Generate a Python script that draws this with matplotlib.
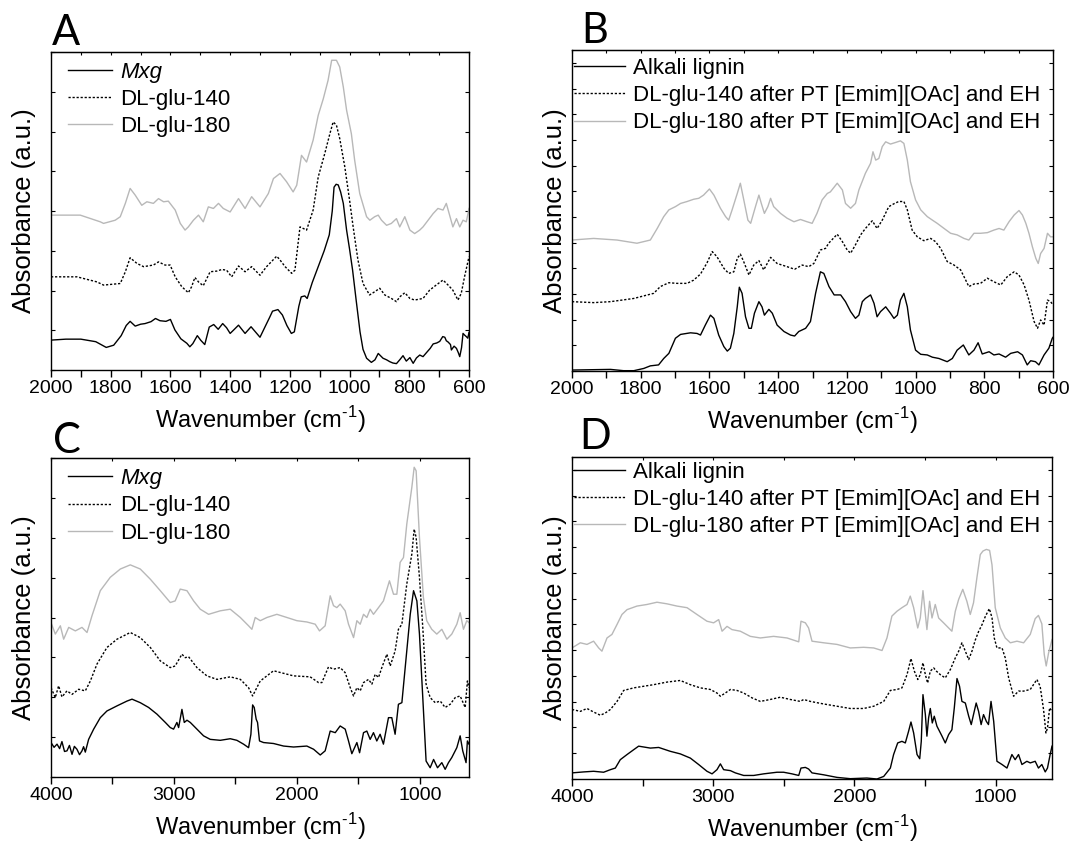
import matplotlib
matplotlib.use("Agg")
import matplotlib.pyplot as plt
from matplotlib.ticker import MultipleLocator, NullFormatter

plt.rcParams['font.family'] = ['Liberation Sans', 'DejaVu Sans']
plt.rcParams['mathtext.fontset'] = 'custom'
plt.rcParams['mathtext.rm'] = 'Liberation Sans'

# ---------------- panel A (Mxg, 2000-600) ----------------
a_wn_mxg = [2000, 1950, 1900, 1850, 1815, 1790, 1765, 1748, 1735, 1718, 1700, 1685, 1665, 1650, 1635, 1615,
            1600, 1585, 1565, 1545, 1535, 1525, 1510, 1498, 1485, 1470, 1455, 1440, 1425, 1412, 1400, 1388,
            1372, 1350, 1330, 1300, 1282, 1268, 1258, 1240, 1225, 1210, 1195, 1185, 1170, 1162, 1150, 1142,
            1125, 1105, 1085, 1068, 1058, 1052, 1045, 1038, 1030, 1021, 1010, 1000, 990, 978, 965, 955, 943,
            927, 915, 904, 888, 876, 865, 855, 843, 832, 821, 810, 798, 787, 776, 765, 754, 743, 730, 720,
            708, 698, 688, 681, 676, 670, 662, 659, 650, 642, 636, 631, 625, 620, 615, 609, 604, 600]
a_ab_mxg = [9.4, 9.7, 9.7, 8.9, 7.1, 7.8, 10.8, 14.0, 15.3, 13.8, 14.4, 14.6, 15.2, 16.2, 15.5, 15.3,
            15.9, 12.6, 9.8, 8.4, 7.3, 8.3, 10.8, 9.3, 8.0, 13.5, 14.3, 12.8, 14.6, 13.3, 11.5, 12.6,
            14.1, 11.5, 13.6, 10.3, 13.8, 16.5, 18.5, 19.0, 17.3, 14.0, 11.5, 12.0, 20.0, 23.0, 23.3, 22.5,
            27.5, 32.5, 37.5, 42.5, 50.0, 57.5, 58.4, 58.2, 56.0, 52.4, 44.0, 38.0, 31.5, 22.0, 12.0, 6.5, 3.7,
            2.4, 3.2, 5.2, 3.7, 3.2, 2.6, 2.2, 2.0, 3.2, 4.5, 2.8, 3.9, 2.1, 3.8, 4.7, 4.2, 5.4, 6.8, 8.2,
            8.5, 9.0, 10.5, 10.3, 9.2, 8.8, 8.0, 6.3, 7.5, 6.8, 5.5, 4.2, 7.0, 11.5, 11.0, 10.5, 10.0, 11.8]

a_wn_140 = [2000, 1991, 1913, 1846, 1824, 1768, 1751, 1735, 1712, 1690, 1657, 1640, 1618, 1601, 1584, 1562,
            1540, 1529, 1518, 1506, 1490, 1467, 1445, 1428, 1412, 1395, 1372, 1350, 1328, 1300, 1278, 1244,
            1233, 1216, 1194, 1183, 1166, 1144, 1122, 1105, 1083, 1066, 1055, 1044, 1033, 1016, 1000, 988,
            972, 955, 933, 916, 899, 882, 860, 843, 832, 815, 798, 782, 754, 732, 710, 687, 670, 654, 637,
            626, 615, 600]
a_ab_140 = [29.3, 29.3, 29.3, 27.7, 26.7, 27.2, 30.9, 35.3, 33.5, 32.5, 33.0, 34.0, 33.0, 33.0, 29.3, 26.2,
            24.3, 26.2, 29.1, 27.7, 26.5, 30.9, 31.1, 31.6, 31.4, 29.3, 32.7, 30.9, 32.5, 29.8, 32.5, 35.8,
            34.6, 32.5, 30.4, 31.4, 45.0, 44.0, 50.3, 60.7, 68.1, 74.3, 78.0, 77.0, 72.8, 63.9, 53.4, 45.0,
            34.6, 27.2, 23.6, 24.6, 25.7, 23.6, 22.5, 21.5, 23.0, 24.3, 22.5, 22.0, 22.5, 25.1, 26.7, 28.3,
            26.7, 25.1, 22.0, 24.1, 29.3, 35.6]

a_wn_180 = [2000, 1902, 1835, 1824, 1785, 1768, 1751, 1735, 1718, 1696, 1679, 1657, 1640, 1623, 1607, 1584,
            1567, 1551, 1540, 1523, 1506, 1490, 1473, 1456, 1439, 1423, 1400, 1372, 1350, 1328, 1300, 1272,
            1255, 1233, 1211, 1189, 1177, 1161, 1144, 1122, 1105, 1088, 1072, 1060, 1044, 1033, 1021, 1010,
            994, 983, 966, 943, 932, 916, 904, 893, 876, 860, 843, 832, 815, 798, 782, 765, 754, 737, 720,
            704, 687, 676, 665, 654, 642, 631, 620, 609, 600]
a_ab_180 = [48.7, 48.7, 46.6, 46.1, 47.1, 48.2, 52.4, 57.1, 55.0, 51.8, 52.9, 52.4, 53.9, 52.9, 53.1, 50.3,
            46.1, 44.0, 45.0, 47.1, 48.7, 46.6, 51.3, 50.8, 52.4, 50.8, 49.7, 53.9, 50.8, 54.5, 51.3, 55.5,
            60.2, 61.8, 59.2, 56.0, 58.1, 67.5, 65.4, 72.3, 80.1, 85.3, 91.1, 97.4, 97.4, 95.3, 89.0, 81.7,
            74.3, 66.0, 55.5, 48.2, 47.1, 48.2, 48.7, 47.1, 45.5, 46.1, 47.6, 45.0, 48.2, 44.0, 42.9, 44.0,
            45.0, 47.1, 49.2, 50.8, 50.3, 52.4, 48.7, 45.0, 47.6, 45.0, 47.1, 46.6, 50.8]

# ---------------- panel B (alkali lignin, 2000-600) ----------------
b_wn_lig = [2000, 1888, 1850, 1820, 1791, 1772, 1748, 1733, 1718, 1699, 1684, 1655, 1636, 1626, 1612, 1597,
            1587, 1573, 1558, 1548, 1539, 1529, 1519, 1513, 1505, 1495, 1485, 1478, 1469, 1456, 1447, 1440,
            1427, 1417, 1403, 1383, 1364, 1352, 1340, 1320, 1306, 1291, 1277, 1267, 1252, 1237, 1218, 1204,
            1189, 1175, 1165, 1155, 1146, 1131, 1121, 1112, 1102, 1087, 1073, 1063, 1053, 1044, 1034, 1024,
            1015, 1000, 985, 966, 951, 932, 908, 893, 879, 861, 845, 830, 818, 806, 786, 772, 757, 738, 723,
            703, 689, 675, 665, 651, 641, 626, 612, 602, 600]
b_ab_lig = [0.3, 0.5, 0.1, 0.1, 0.8, 1.6, 1.9, 3.9, 5.5, 10.2, 11.4, 11.9, 11.7, 11.2, 14.3, 17.4,
            16.4, 11.2, 7.6, 6.2, 7.1, 11.7, 20.0, 26.1, 24.2, 16.9, 13.3, 13.3, 18.0, 21.6, 20.0, 17.4,
            19.2, 18.0, 14.3, 12.3, 11.2, 10.9, 12.3, 13.3, 15.4, 24.2, 30.9, 30.4, 26.3, 23.7, 23.7, 21.6,
            18.5, 16.4, 17.4, 21.6, 22.6, 23.7, 21.1, 16.9, 18.5, 20.0, 18.0, 16.4, 17.4, 22.1, 24.2, 20.0,
            12.8, 6.5, 5.2, 5.0, 4.3, 3.9, 2.9, 3.9, 6.5, 8.1, 5.0, 6.5, 8.8, 5.3, 6.0, 5.0, 5.3, 4.3, 5.5,
            6.0, 5.0, 1.9, 3.2, 2.9, 1.9, 5.0, 7.1, 10.2, 10.5]

b_wn_140 = [2000, 1937, 1888, 1820, 1791, 1762, 1743, 1718, 1694, 1665, 1646, 1626, 1607, 1592, 1578, 1558,
            1544, 1529, 1519, 1510, 1500, 1485, 1471, 1456, 1442, 1422, 1403, 1374, 1352, 1330, 1311, 1296,
            1277, 1262, 1253, 1237, 1228, 1213, 1199, 1189, 1175, 1160, 1146, 1126, 1112, 1097, 1078, 1063,
            1049, 1034, 1024, 1010, 995, 976, 956, 942, 927, 908, 888, 869, 854, 845, 830, 811, 791, 772,
            752, 733, 713, 699, 684, 670, 655, 645, 636, 626, 616, 607, 600]
b_ab_140 = [21.6, 21.3, 21.6, 22.6, 23.4, 24.2, 26.3, 27.5, 27.3, 27.3, 28.3, 30.2, 33.7, 37.2, 35.6, 32.0,
            30.4, 30.9, 35.1, 36.4, 34.0, 29.9, 33.0, 34.4, 31.5, 35.4, 33.5, 32.5, 31.7, 33.0, 32.5, 33.5,
            37.7, 38.2, 39.8, 41.6, 42.6, 40.3, 37.7, 36.7, 39.3, 42.4, 44.4, 46.8, 44.4, 47.0, 51.2, 52.1,
            52.8, 52.8, 50.2, 43.9, 41.8, 40.6, 41.3, 40.3, 38.2, 34.1, 33.0, 31.5, 28.3, 26.3, 27.1, 27.3,
            28.9, 27.8, 26.8, 29.4, 30.9, 29.9, 26.8, 22.1, 15.4, 13.3, 15.9, 14.3, 22.1, 21.6, 20.6]

b_wn_180 = [2000, 1937, 1869, 1811, 1772, 1752, 1733, 1718, 1699, 1684, 1665, 1646, 1631, 1617, 1600, 1587,
            1568, 1553, 1544, 1534, 1519, 1510, 1500, 1488, 1480, 1466, 1456, 1449, 1440, 1430, 1422, 1413,
            1393, 1374, 1354, 1335, 1316, 1301, 1287, 1272, 1257, 1248, 1228, 1213, 1204, 1189, 1175, 1165,
            1146, 1131, 1124, 1116, 1107, 1097, 1087, 1073, 1058, 1044, 1034, 1024, 1015, 1000, 985, 966,
            951, 937, 917, 898, 879, 859, 845, 830, 811, 791, 772, 757, 743, 728, 713, 699, 689, 679, 670,
            660, 650, 643, 636, 626, 616, 607, 600]
b_ab_180 = [40.8, 41.3, 40.8, 39.8, 40.8, 44.4, 48.1, 50.2, 51.2, 52.2, 52.8, 53.5, 53.8, 54.8, 56.7, 54.8,
            50.7, 48.1, 47.0, 50.2, 55.3, 58.5, 53.3, 47.0, 46.0, 51.2, 54.8, 52.2, 49.1, 51.2, 53.8, 51.2,
            49.1, 47.6, 46.5, 47.2, 46.5, 46.0, 49.1, 53.3, 55.3, 55.8, 58.5, 56.4, 52.2, 50.7, 52.2, 56.4,
            61.6, 64.7, 68.3, 65.7, 66.2, 69.9, 71.4, 70.7, 71.2, 71.7, 70.9, 65.7, 59.0, 53.3, 50.2, 48.1,
            47.0, 46.0, 44.4, 42.9, 42.4, 41.3, 40.8, 42.9, 42.9, 43.1, 43.9, 44.4, 43.9, 46.5, 48.6, 50.0,
            48.6, 46.0, 42.9, 38.7, 35.1, 33.5, 36.6, 38.2, 42.9, 41.8, 41.8]

# ---------------- panel C (Mxg, 4000-600) ----------------
c_wn_mxg = [4000, 3975, 3951, 3930, 3911, 3890, 3870, 3850, 3829, 3810, 3789, 3768, 3748, 3735, 3721, 3694,
            3653, 3599, 3545, 3463, 3382, 3341, 3274, 3206, 3138, 3070, 3030, 3003, 2976, 2962, 2935, 2916,
            2894, 2867, 2813, 2759, 2705, 2623, 2542, 2488, 2434, 2393, 2374, 2360, 2347, 2331, 2320, 2304,
            2271, 2190, 2108, 2027, 1919, 1864, 1810, 1770, 1729, 1688, 1648, 1607, 1580, 1553, 1512, 1490,
            1458, 1431, 1404, 1377, 1350, 1323, 1296, 1255, 1228, 1201, 1174, 1146, 1119, 1078, 1051, 1024,
            1003, 976, 949, 916, 888, 856, 821, 794, 767, 740, 699, 672, 651, 624, 613, 600]
c_ab_mxg = [10.8, 9.3, 10.3, 8.9, 11.1, 8.0, 8.2, 9.9, 7.1, 9.6, 8.7, 7.0, 8.2, 9.5, 7.8, 11.8,
            15.0, 18.6, 20.7, 22.3, 23.8, 24.4, 23.3, 21.8, 19.7, 17.1, 15.5, 15.0, 17.1, 15.5, 21.2, 17.1,
            17.8, 17.1, 15.0, 12.9, 11.8, 11.5, 12.0, 11.5, 10.3, 9.2, 13.4, 22.6, 21.8, 18.1, 17.1, 11.3,
            10.8, 10.5, 9.7, 9.4, 9.7, 8.7, 6.9, 8.2, 14.4, 13.9, 16.0, 15.0, 11.3, 7.3, 10.8, 7.6,
            13.9, 14.4, 11.8, 13.9, 11.3, 13.4, 10.3, 18.6, 18.6, 13.4, 22.8, 23.3, 34.3, 51.0, 58.4, 55.2,
            44.8, 24.9, 5.0, 2.9, 5.5, 2.9, 4.5, 2.4, 4.5, 6.1, 9.2, 12.9, 8.2, 4.5, 11.3, 10.3]

c_wn_140 = [4000, 3965, 3938, 3911, 3870, 3829, 3775, 3721, 3680, 3626, 3545, 3463, 3355, 3274, 3192, 3111,
            3030, 2990, 2935, 2908, 2881, 2813, 2732, 2650, 2542, 2460, 2393, 2360, 2339, 2298, 2190, 2108,
            2027, 1892, 1824, 1797, 1743, 1702, 1648, 1607, 1566, 1539, 1512, 1485, 1458, 1417, 1390, 1363,
            1336, 1309, 1268, 1241, 1201, 1174, 1146, 1106, 1065, 1046, 1030, 1003, 976, 949, 916, 875, 834,
            794, 753, 712, 672, 631, 613, 600]
c_ab_140 = [28.0, 24.9, 28.6, 25.1, 27.0, 25.9, 27.5, 27.0, 30.1, 35.4, 40.6, 43.2, 45.3, 43.7, 40.6, 36.4,
            34.3, 34.8, 38.5, 37.4, 37.7, 34.3, 31.7, 30.6, 31.4, 30.6, 28.0, 25.4, 27.0, 30.1, 33.3, 32.5,
            31.7, 31.4, 29.6, 29.6, 34.5, 33.8, 34.3, 32.7, 28.0, 25.4, 28.0, 27.0, 29.6, 30.6, 29.1, 32.2,
            31.2, 34.3, 38.5, 34.8, 39.5, 46.3, 47.9, 60.5, 69.9, 77.7, 75.1, 62.6, 46.9, 29.1, 24.9, 23.3,
            23.8, 21.8, 22.8, 24.9, 25.4, 21.8, 30.1, 28.0]

c_wn_180 = [4000, 3965, 3924, 3897, 3856, 3802, 3748, 3707, 3667, 3599, 3518, 3436, 3355, 3274, 3192, 3111,
            3030, 2990, 2949, 2894, 2840, 2786, 2718, 2623, 2542, 2460, 2393, 2366, 2339, 2298, 2244, 2163,
            2081, 2000, 1919, 1851, 1816, 1770, 1729, 1702, 1675, 1648, 1607, 1580, 1539, 1512, 1485, 1458,
            1431, 1404, 1377, 1336, 1296, 1247, 1214, 1187, 1160, 1133, 1106, 1065, 1046, 1030, 1003, 971,
            944, 903, 862, 821, 780, 740, 699, 672, 645, 618, 600]
c_ab_180 = [48.4, 44.8, 47.4, 43.2, 46.9, 45.8, 46.9, 45.3, 50.5, 58.4, 62.6, 65.2, 66.5, 65.2, 62.0, 58.4,
            54.7, 55.2, 58.9, 58.4, 55.2, 52.6, 51.0, 52.1, 52.6, 50.0, 47.4, 46.3, 50.0, 49.0, 50.0, 51.0,
            50.0, 49.0, 48.6, 47.9, 45.8, 47.4, 56.8, 53.7, 53.1, 54.2, 52.1, 47.9, 43.7, 49.0, 47.9, 51.0,
            50.0, 52.6, 51.0, 53.1, 55.2, 61.5, 57.3, 57.3, 67.3, 68.8, 79.3, 90.8, 97.1, 96.0, 75.1, 56.3,
            49.0, 46.3, 44.8, 46.3, 43.2, 44.8, 47.9, 51.5, 46.3, 49.0, 48.4]

# ---------------- panel D (alkali lignin, 4000-600) ----------------
d_wn_lig = [4000, 3917, 3847, 3776, 3728, 3693, 3658, 3610, 3563, 3528, 3445, 3386, 3304, 3233, 3162, 3103,
            3044, 3008, 2973, 2949, 2926, 2878, 2843, 2784, 2713, 2642, 2548, 2501, 2442, 2394, 2378, 2347,
            2324, 2300, 2217, 2123, 2029, 1911, 1840, 1792, 1745, 1722, 1693, 1663, 1639, 1616, 1599, 1580,
            1556, 1537, 1526, 1514, 1497, 1486, 1474, 1462, 1448, 1434, 1415, 1379, 1356, 1332, 1309, 1292,
            1273, 1255, 1238, 1214, 1190, 1172, 1156, 1137, 1120, 1102, 1085, 1065, 1050, 1032, 1013, 990,
            954, 919, 884, 861, 837, 813, 778, 754, 719, 696, 672, 648, 632, 613, 600]
d_ab_lig = [1.9, 2.2, 2.4, 2.1, 2.9, 3.4, 6.0, 7.6, 9.1, 10.2, 9.6, 9.8, 8.6, 7.8, 6.5, 4.5,
            2.4, 1.6, 2.9, 4.7, 2.9, 2.6, 1.9, 1.1, 1.1, 1.6, 2.1, 2.1, 1.6, 1.1, 3.4, 3.6,
            3.1, 1.9, 1.3, 0.5, 0.1, 0.3, 0.0, 0.8, 3.4, 7.6, 11.2, 11.7, 11.2, 14.8, 17.7, 14.3,
            7.6, 6.3, 11.7, 26.2, 20.0, 13.3, 19.0, 21.9, 17.4, 19.5, 16.4, 13.3, 11.2, 13.8, 15.3, 22.1,
            31.2, 28.8, 24.1, 23.6, 19.5, 16.9, 20.0, 23.6, 21.0, 16.9, 20.0, 17.9, 16.9, 24.1, 17.9, 5.5,
            4.5, 3.4, 7.6, 6.0, 7.6, 4.5, 5.5, 5.0, 5.5, 3.4, 4.5, 2.2, 3.4, 7.6, 10.2]

d_wn_140 = [4000, 3941, 3894, 3847, 3799, 3764, 3728, 3681, 3634, 3563, 3492, 3421, 3327, 3233, 3162, 3091,
            3020, 2973, 2949, 2914, 2878, 2831, 2784, 2725, 2666, 2595, 2524, 2454, 2383, 2359, 2312, 2217,
            2123, 2029, 1934, 1863, 1792, 1745, 1698, 1663, 1627, 1599, 1575, 1551, 1533, 1514, 1497, 1481,
            1462, 1438, 1419, 1391, 1356, 1320, 1285, 1261, 1238, 1214, 1190, 1167, 1143, 1120, 1096, 1072,
            1044, 1025, 1009, 990, 954, 931, 907, 872, 837, 801, 754, 707, 684, 660, 643, 632, 617, 600]
d_ab_140 = [21.6, 21.0, 21.9, 20.8, 19.8, 20.5, 21.6, 24.1, 27.5, 28.3, 28.8, 29.3, 30.1, 30.6, 29.3, 28.3,
            27.8, 26.7, 25.7, 26.7, 27.8, 27.5, 26.7, 25.2, 24.1, 24.7, 25.4, 24.7, 24.1, 24.7, 24.1, 23.3,
            22.6, 21.9, 21.9, 22.6, 24.1, 27.5, 27.8, 28.3, 32.4, 37.4, 33.5, 30.9, 32.4, 36.1, 32.4, 29.8,
            33.5, 34.5, 33.5, 32.4, 31.4, 34.0, 37.6, 39.7, 42.3, 39.7, 37.1, 39.7, 43.2, 45.8, 47.9, 50.5,
            52.9, 50.1, 43.8, 40.7, 40.7, 37.6, 31.4, 25.7, 27.3, 27.3, 27.8, 30.9, 28.8, 21.6, 14.3, 15.8,
            22.1, 21.0]

d_wn_180 = [4000, 3941, 3894, 3847, 3811, 3788, 3752, 3717, 3681, 3646, 3610, 3540, 3469, 3398, 3327, 3256,
            3185, 3115, 3044, 2997, 2961, 2937, 2902, 2867, 2808, 2737, 2666, 2572, 2477, 2394, 2378, 2347,
            2324, 2300, 2217, 2123, 2029, 1934, 1863, 1804, 1769, 1734, 1698, 1663, 1627, 1604, 1580, 1551,
            1533, 1514, 1497, 1486, 1467, 1450, 1427, 1403, 1368, 1332, 1309, 1285, 1261, 1232, 1203, 1179,
            1156, 1132, 1108, 1089, 1065, 1042, 1025, 1002, 966, 931, 895, 848, 801, 754, 719, 696, 672, 655,
            641, 624, 600]
d_ab_180 = [40.7, 42.3, 41.8, 42.8, 40.7, 39.7, 43.8, 44.9, 48.0, 51.1, 52.6, 53.7, 54.2, 54.9, 54.4, 53.7,
            53.2, 51.1, 49.0, 48.5, 49.5, 45.9, 47.4, 46.4, 45.9, 44.3, 43.8, 44.3, 43.8, 42.6, 49.0, 48.5,
            46.9, 42.8, 42.3, 41.8, 40.7, 40.9, 40.7, 39.9, 43.8, 50.6, 52.1, 53.2, 54.2, 56.8, 53.2, 46.9,
            50.0, 58.5, 51.1, 46.4, 55.2, 50.0, 54.2, 50.0, 48.5, 46.9, 45.9, 52.1, 55.8, 58.9, 55.2, 51.1,
            54.7, 62.5, 69.7, 70.8, 71.3, 71.0, 66.5, 53.2, 46.9, 43.8, 42.3, 42.8, 42.3, 44.9, 49.8, 50.8,
            48.2, 38.7, 35.1, 39.2, 43.3]

mxg_labels = ["Mxg", "DL-glu-140", "DL-glu-180"]
lig_labels = ["Alkali lignin",
              "DL-glu-140 after PT [Emim][OAc] and EH",
              "DL-glu-180 after PT [Emim][OAc] and EH"]

GRAY = "#b8b8b8"
DOT = (0, (1.6, 1.3))

fig = plt.figure(figsize=(10.88, 8.42), dpi=100)
W, H = 1088.0, 842.0


def make_ax(l, t, r, b):
    return fig.add_axes([l / W, 1 - b / H, (r - l) / W, (b - t) / H])


def style(ax, xmax, major, minor, ystep, ypad):
    ax.set_xlim(xmax, 600)
    ax.set_ylim(0, 100)
    ax.xaxis.set_major_locator(MultipleLocator(major))
    ax.xaxis.set_minor_locator(MultipleLocator(minor))
    ax.yaxis.set_major_locator(MultipleLocator(ystep))
    ax.yaxis.set_major_formatter(NullFormatter())
    ax.tick_params(axis='x', which='both', direction='out', length=5, width=1, labelsize=14, pad=2,
                   top=False)
    ax.tick_params(axis='y', which='both', direction='in', length=3, width=0.8, left=True, right=True)
    sec = ax.secondary_xaxis('top')
    sec.xaxis.set_major_locator(MultipleLocator(minor))
    sec.tick_params(direction='in', length=2.5, width=0.8, labeltop=False)
    sec.xaxis.set_major_formatter(NullFormatter())
    for s in ax.spines.values():
        s.set_linewidth(1.0)
    ax.set_xlabel(r"Wavenumber (cm$^{\text{-}\mathregular{1}}$)", fontsize=17, labelpad=5)
    ax.set_ylabel("Absorbance (a.u.)", fontsize=18.5, labelpad=ypad)


def plot3(ax, wn, ab, labels, loc, hl, italic_first):
    ax.plot(wn[0], ab[0], color="black", lw=1.0, label=labels[0])
    ax.plot(wn[1], ab[1], color="black", lw=1.0, ls=DOT, label=labels[1])
    ax.plot(wn[2], ab[2], color=GRAY, lw=1.0, label=labels[2])
    leg = ax.legend(loc="upper left", bbox_to_anchor=loc, frameon=False, fontsize=16,
                    borderaxespad=0, borderpad=0, handlelength=hl, handletextpad=0.35,
                    labelspacing=0.28)
    if italic_first:
        leg.get_texts()[0].set_fontstyle("italic")


axA = make_ax(51, 52, 469, 370)
plot3(axA, [a_wn_mxg, a_wn_140, a_wn_180], [a_ab_mxg, a_ab_140, a_ab_180], mxg_labels,
      (0.040, 0.97), 2.0, True)
style(axA, 2000, 200, 100, 12.5, 7)

axB = make_ax(572, 50, 1053, 371)
plot3(axB, [b_wn_lig, b_wn_140, b_wn_180], [b_ab_lig, b_ab_140, b_ab_180], lig_labels,
      (0.004, 0.975), 2.3, False)
style(axB, 2000, 200, 100, 8, 0)

axC = make_ax(51, 458, 469, 777)
plot3(axC, [c_wn_mxg, c_wn_140, c_wn_180], [c_ab_mxg, c_ab_140, c_ab_180], mxg_labels,
      (0.040, 0.968), 2.0, True)
style(axC, 4000, 1000, 500, 12.5, 7)

axD = make_ax(572, 457, 1052, 779)
plot3(axD, [d_wn_lig, d_wn_140, d_wn_180], [d_ab_lig, d_ab_140, d_ab_180], lig_labels,
      (0.004, 0.985), 2.3, False)
style(axD, 4000, 1000, 500, 8, 0)

for letter, x, y in [("A", 52, 45), ("B", 581, 43), ("C", 53, 453), ("D", 579, 449)]:
    fig.text(x / W, 1 - y / H, letter, fontsize=30, family=["Lato", "DejaVu Sans"],
             va="baseline", ha="left")

fig.savefig("out.png", dpi=100)
